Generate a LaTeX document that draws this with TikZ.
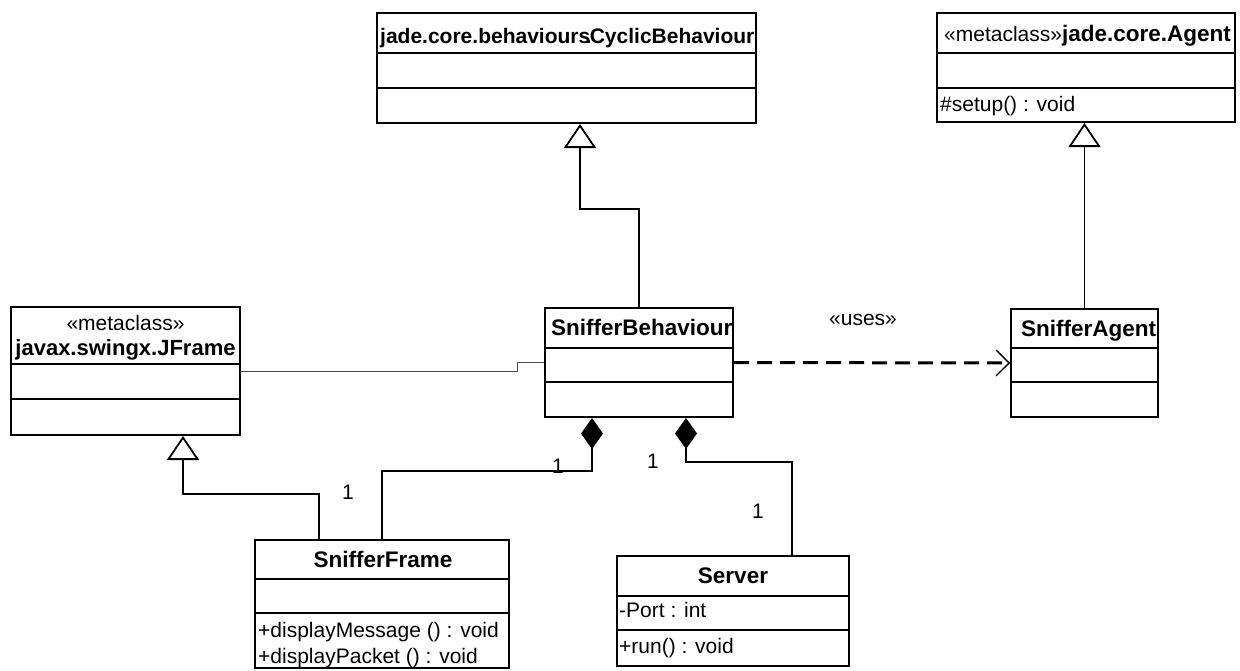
\documentclass[tikz,border=0pt]{standalone}
\usepackage{fontspec}
\setmainfont{Liberation Sans}
\usetikzlibrary{arrows.meta}

\tikzset{
  classbox/.style={draw, line width=2pt, inner sep=0pt, fill=white},
  divider/.style={line width=1.8pt},
  conn/.style={line width=1.4pt},
  gen/.style={conn, -{Triangle[open, length=24pt, width=32pt, line width=1.8pt]}},
  comp/.style={conn, {Diamond[length=31pt, width=22pt]}-},
  assoc/.style={line width=1pt, draw=black!70},
  dep/.style={line width=3pt, dash pattern=on 15pt off 8pt,
    -{Straight Barb[length=13pt, width=26pt, line width=1.3pt]}},
  title/.style={font=\fontsize{22.5}{26}\selectfont\bfseries, inner sep=0pt},
  member/.style={font=\fontsize{21}{25}\selectfont, inner sep=0pt, anchor=base west},
  mult/.style={font=\fontsize{21}{25}\selectfont, inner sep=0pt, anchor=base},
}

% class box: name, x1, y1, x2, y2, first divider, second divider
\newcommand\umlclass[7]{%
  \node[classbox, minimum width={(#4-#2)*1pt}, minimum height={(#5-#3)*1pt}]
    (#1) at ({(#2+#4)/2},{(#3+#5)/2}) {};
  \draw[divider] (#2,#6) -- (#4,#6);
  \draw[divider] (#2,#7) -- (#4,#7);
}

\begin{document}
\begin{tikzpicture}[x=1pt, y=-1pt]
  \fill[white] (0,0) rectangle (1240,670);
  \useasboundingbox (0,0) rectangle (1240,670);

  % classes
  \umlclass{cyc}{377}{13}{756}{123}{53}{88}
  \umlclass{agent}{937}{13}{1235}{122}{53}{88}
  \umlclass{jframe}{11}{307}{240}{435}{364}{399}
  \umlclass{beh}{545}{308}{733}{417}{348}{382}
  \umlclass{sagent}{1011}{309}{1158}{417}{348}{382}
  \umlclass{sframe}{255}{540}{509}{668}{579}{613}
  \umlclass{server}{617}{556}{849}{666}{596}{630}

  % class names and members
  \node[title, font=\fontsize{21}{25}\selectfont\bfseries, anchor=base west] (cycname) at (380,43)
    {jade.core.behaviours\kern-.22em.\kern-.08em CyclicBehaviour};
  \node[anchor=base west, inner sep=0pt] (agentname) at (944,41)
    {{\fontsize{21}{25}\selectfont «metaclass»}{\fontsize{22.5}{26}\selectfont\bfseries jade.core.Agent}};
  \node[member] (setup) at (940,111) {\#setup() : void};

  \node[member, anchor=base] (jfstereo) at (125.5,330) {«metaclass»};
  \node[title, font=\fontsize{22}{26}\selectfont\bfseries, anchor=base] (jfname) at (125.5,355) {javax.swingx.JFrame};

  \node[title, anchor=base west] (behname) at (551,335) {SnifferBehaviour};
  \node[title, anchor=base west] (sagentname) at (1021,336) {SnifferAgent};

  \node[title, anchor=base] (sframename) at (383,567) {SnifferFrame};
  \node[member] (dispmsg) at (258,637) {+displayMessage () : void};
  \node[member] (disppkt) at (258,663) {+displayPacket () : void};

  \node[title, anchor=base] (servername) at (733,583) {Server};
  \node[member] (port) at (619,617) {-Port : int};
  \node[member] (run) at (619,653) {+run() : void};

  % helper points on the boxes
  \coordinate (cyctip) at ([xshift=13.5pt]cyc.south);
  \coordinate (jftip) at ([xshift=57.5pt]jframe.south);
  \coordinate (sfgen) at ([xshift=-63pt]sframe.north);
  \coordinate (srvtop) at ([xshift=59pt]server.north);
  \coordinate (behl) at ([xshift=-47pt]beh.south);
  \coordinate (behr) at ([xshift=47pt]beh.south);
  \coordinate (cycbend) at (639,209);
  \coordinate (jfbend) at (0,494);
  \coordinate (sfbend) at (0,471);
  \coordinate (srvbend) at (0,462);

  % generalizations
  \draw[gen] (beh.north) -- (beh.north |- cycbend) -| (cyctip);
  \draw[gen] (sagent.north) -- (sagent.north |- agent.south);
  \draw[gen] (sfgen) -- (sfgen |- jfbend) -| (jftip);

  % compositions
  \draw[comp] (behl) |- (sframe.north |- sfbend) -- (sframe.north);
  \draw[comp] (behr) |- (srvtop |- srvbend) -- (srvtop);

  % association and dependency
  \draw[assoc] (jframe.east) -- ++(276,0) |- (beh.west);
  \draw[dep] (beh.east) -- (sagent.west);
  \node[mult] (uses) at (863,325) {«uses»};

  % multiplicities
  \node[mult] (m1) at (348,499) {1};
  \node[mult] (m2) at (558,473) {1};
  \node[mult] (m3) at (653,468) {1};
  \node[mult] (m4) at (758,518) {1};
\end{tikzpicture}
\end{document}
